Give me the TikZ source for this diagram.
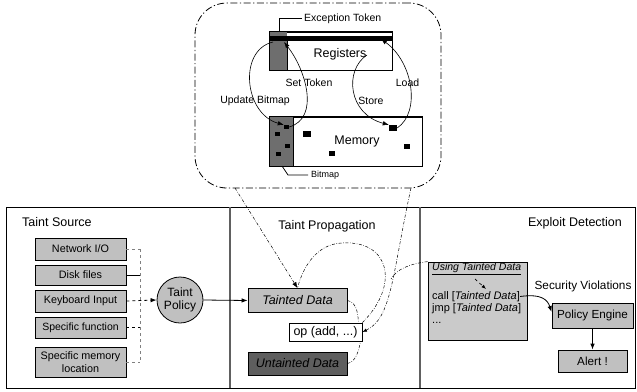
\documentclass[tikz,border=0pt]{standalone}
\usepackage{fontspec}
\setmainfont{Liberation Sans}
\usetikzlibrary{arrows.meta}
\definecolor{boxgray}{HTML}{C0C0C0}
\definecolor{lightbox}{HTML}{CACACA}
\definecolor{darkbits}{HTML}{6E6E6E}
\definecolor{darkdata}{HTML}{5E5E5E}
\definecolor{panelline}{HTML}{606060}
\definecolor{busgray}{HTML}{808080}
\newcommand\fsz[2]{\fontsize{#1}{#2}\selectfont}

\begin{document}
\begin{tikzpicture}[x=1pt,y=-1pt,
  every node/.style={inner sep=0pt},
  plainbox/.style={draw, line width=0.8pt, fill=boxgray, align=center},
  dashdot/.style={line width=0.5pt, dash pattern=on 3pt off 1.6pt on 0.6pt off 1.6pt},
  bubble/.style={line width=0.8pt, dash pattern=on 7pt off 2.5pt on 1.2pt off 2.5pt},
  tip/.style={-{Latex[length=6pt,width=4.5pt]}},
  smalltip/.style={-{Latex[length=4.5pt,width=3.5pt]}},
  bit/.style={fill=black, draw=none},
  curve/.style={line width=0.6pt},
  lbl/.style={font=\fsz{10.5}{12}},
  codeline/.style={anchor=west, font=\fsz{11}{12}, text height=7.5pt, text depth=2pt}
]
\useasboundingbox (0,0) rectangle (637,391);

% ---------- memory/register detail bubble ----------
\node[bubble, draw, rounded corners=32pt, minimum width=246pt, minimum height=185pt] (detail) at (318,95.5) {};

% registers
\node[draw, fill=white, line width=0.8pt, minimum width=122pt, minimum height=38pt] (reg) at (331,51) {};
\fill[darkbits] (270,32) rectangle (287,70);
\fill[black] (270,36) rectangle (392,41);
\draw[line width=0.8pt] (287,41) -- (287,70);
\draw[line width=0.8pt] (reg.north west) rectangle (reg.south east);
\node[font=\fsz{12.5}{14}] (regtext) at (340,54) {Registers};

% memory with tag bitmap
\node[draw, fill=white, line width=0.8pt, minimum width=152pt, minimum height=49pt] (mem) at (346,141.5) {};
\fill[darkbits] (270,117) rectangle (293,166);
\draw[line width=0.8pt] (293,117) -- (293,166);
\draw[line width=0.8pt] (mem.north west) rectangle (mem.south east);
\node[font=\fsz{12.5}{14}] (memtext) at (357,141) {Memory};

% bitmap tags and memory words
\node[bit, minimum width=5pt, minimum height=4pt] (b1) at (286.5,127) {};
\node[bit, minimum width=5pt, minimum height=4pt] (b2) at (277.5,134) {};
\node[bit, minimum width=5pt, minimum height=4pt] (b3) at (287.5,146) {};
\node[bit, minimum width=5pt, minimum height=4pt] (b4) at (278.5,154) {};
\node[bit, minimum width=8pt, minimum height=6pt] (w1) at (307,134) {};
\node[bit, minimum width=6pt, minimum height=5pt] (w2) at (332,153) {};
\node[bit, minimum width=8pt, minimum height=6pt] (w3) at (393,128) {};
\node[bit, minimum width=6pt, minimum height=5pt] (w4) at (407,146) {};

% exception token and bitmap call-outs
\node[lbl, anchor=west] (exc) at (304,18.5) {Exception Token};
\coordinate (excbar) at (279,32);
\draw[line width=0.8pt] (exc.west) ++(-2,0) -| (excbar);
\node[font=\fsz{9}{10}, anchor=west] (bmp) at (311,175) {Bitmap};
\coordinate (bmpedge) at (282,166);
\draw[line width=0.8pt] (bmpedge) -- (288,175) -- ([xshift=-3pt]bmp.west);

% token / bitmap traffic
\coordinate (ubsrc) at (273,42);
\coordinate (sttgt) at (284,42);
\coordinate (stsrc) at (367,55);
\coordinate (ldtgt) at (381,39);
\draw[curve, tip] (ubsrc) .. controls (238,50) and (244,114) .. (b1.north west);
\draw[curve, tip] (b1.east) .. controls (320,118) and (306,70) .. (sttgt);
\draw[curve, tip] (stsrc) .. controls (344,70) and (348,114) .. (w3.north west);
\draw[curve, tip] (w3.east) .. controls (421,112) and (413,62) .. (ldtgt);
\node[lbl] (ublbl) at (255,101) {Update Bitmap};
\node[lbl] (stlbl) at (309,83) {Set Token};
\node[lbl] (storelbl) at (371,101) {Store};
\node[lbl] (loadlbl) at (407.5,83) {Load};

% ---------- three stage panels ----------
\draw[line width=0.8pt] (6,207) rectangle (635,388);
\draw[line width=1.2pt, panelline] (230,207) -- (230,388);
\draw[line width=1.2pt, panelline] (420,207) -- (420,388);

\node[font=\fsz{12.5}{14}, anchor=west] (srctitle) at (22,222) {Taint Source};
\node[font=\fsz{12.5}{14}] (proptitle) at (327,226) {Taint Propagation};
\node[font=\fsz{12.5}{14}] (dettitle) at (575,223) {Exploit Detection};

% taint sources
\node[plainbox, minimum width=91pt, minimum height=22pt, font=\fsz{10.8}{12}] (net) at (80.5,249) {Network I/O};
\node[plainbox, minimum width=91pt, minimum height=20pt, font=\fsz{10.8}{12}] (disk) at (80.5,275) {Disk files};
\node[plainbox, minimum width=91pt, minimum height=22pt, font=\fsz{10.8}{12}] (kbd) at (80.5,301) {Keyboard Input};
\node[plainbox, minimum width=91pt, minimum height=21pt, font=\fsz{10.5}{12}] (func) at (80.5,327.5) {Specific function};
\node[plainbox, minimum width=91pt, minimum height=30pt, font=\fsz{10.8}{12.5}] (loc) at (80.5,362) {Specific memory\\location};

\node[circle, draw, line width=0.8pt, fill=boxgray, minimum size=46pt, align=center, font=\fsz{12}{13.5}] (pol) at (180,300) {Taint\\Policy};

\coordinate (bustop) at (140,249);
\coordinate (busbot) at (140,362);
\draw[line width=0.8pt, busgray, dashed] (bustop) -- (busbot);
\draw[line width=0.8pt, busgray, dashed] (net.east) -- (net.east -| bustop);
\draw[line width=0.8pt] (disk.east) -- (disk.east -| bustop);
\draw[line width=0.8pt, dashed] (func.east) -- (func.east -| bustop);
\draw[line width=0.8pt, busgray, dashed] (loc.east) -- (loc.east -| bustop);
\draw[line width=0.8pt, dashed, tip] (kbd.east) -- (pol.west);

% propagation
\node[plainbox, minimum width=99pt, minimum height=24pt, font=\fsz{12.5}{14}\itshape] (td) at (297.5,300.5) {Tainted Data};
\node[draw, line width=0.8pt, fill=white, minimum width=73pt, minimum height=18pt, font=\fsz{12.5}{14}] (op) at (325.5,332) {op (add, ...)};
\node[draw, line width=0.8pt, fill=darkdata, minimum width=99pt, minimum height=23pt, font=\fsz{12.5}{14}\itshape] (ud) at (297.5,363.5) {Untainted Data};

\draw[line width=0.8pt, tip] (pol.east) -- (td.west);

\coordinate (detailL) at (235,188);
\coordinate (detailR) at (411,188);
\coordinate (merge) at (391,279);
\draw[dashdot, tip] (detailL) -- (td.north);
\draw[dashdot] (op.north east) .. controls (400,285) and (390,240) .. (342,243)
                             .. controls (315,244) and (302,270) .. (td.north);
\draw[dashdot, smalltip] (detailR) .. controls (392,275) and (392,318) .. (op.east);
\draw[dashdot] (td.east) .. controls (356,302) and (358,312) .. ([xshift=-4pt]op.north east);
\draw[dashdot] (ud.east) .. controls (356,362) and (359,350) .. ([xshift=-2pt]op.south east);

% exploit detection
\node[draw, line width=0.8pt, fill=lightbox, minimum width=99pt, minimum height=78pt] (use) at (477.5,301) {};
\node[anchor=west, font=\fsz{10.5}{12}\itshape] (usetitle) at (432,269) {\underline{Using Tainted Data}};
\node[codeline] (call) at (432,296.5) {call [\textit{Tainted Data}]};
\node[codeline] (jmp) at (432,308.5) {jmp [\textit{Tainted Data}]};
\node[codeline] (more) at (432,320.5) {...};
\coordinate (useA) at (475,279);
\coordinate (useB) at (486,289);
\draw[line width=0.7pt, dashed, smalltip] (useA) -- (useB);
\draw[dashdot] (use.north west) .. controls (408,264) and (396,270) .. (merge);

\node[font=\fsz{11.8}{13}] (secv) at (583,286) {Security Violations};
\node[plainbox, minimum width=81pt, minimum height=25pt, font=\fsz{11.7}{13}] (pe) at (592.5,315.5) {Policy Engine};
\node[plainbox, minimum width=69pt, minimum height=22pt, font=\fsz{11.7}{13}] (alert) at (592.5,361) {Alert !};
\draw[line width=0.8pt, tip] (call.east) .. controls +(22,-3) and +(-4,-12) .. ([yshift=3.5pt]pe.west);
\draw[line width=0.8pt, tip] (pe.south) -- (alert.north);
\end{tikzpicture}
\end{document}
